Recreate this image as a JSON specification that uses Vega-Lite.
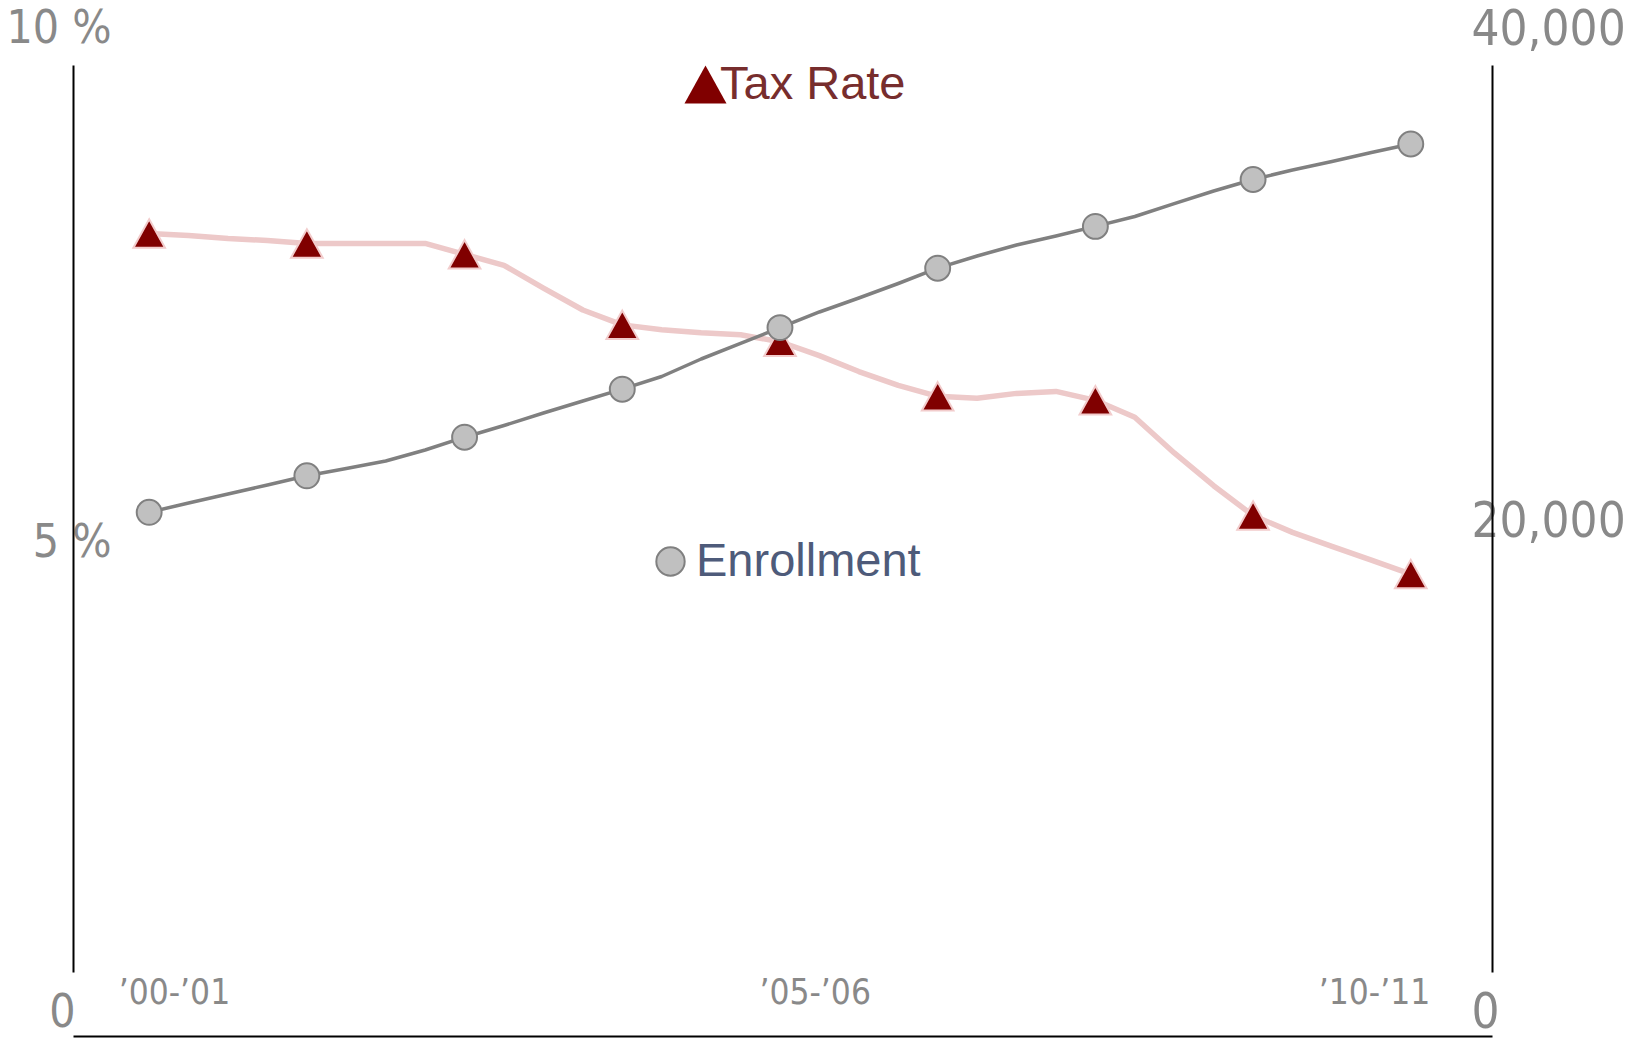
{
  "$schema": "https://vega.github.io/schema/vega-lite/v6.json",
  "width": 1419,
  "height": 907,
  "autosize": {"type": "none"},
  "padding": {"left": 73, "top": 65, "right": 144, "bottom": 66},
  "background": "white",
  "config": {"view": {"stroke": null}},
  "data": {"values": [
    {"t": 0, "tax": 7.88, "enr": 20290},
    {"t": 0.25, "tax": 7.86, "enr": 20665},
    {"t": 0.5, "tax": 7.83, "enr": 21027},
    {"t": 0.75, "tax": 7.81, "enr": 21390},
    {"t": 1, "tax": 7.78, "enr": 21760},
    {"t": 1.25, "tax": 7.78, "enr": 22054},
    {"t": 1.5, "tax": 7.78, "enr": 22357},
    {"t": 1.75, "tax": 7.78, "enr": 22800},
    {"t": 2, "tax": 7.67, "enr": 23315},
    {"t": 2.25, "tax": 7.56, "enr": 23787},
    {"t": 2.5, "tax": 7.33, "enr": 24290},
    {"t": 2.75, "tax": 7.11, "enr": 24773},
    {"t": 3, "tax": 6.96, "enr": 25249},
    {"t": 3.25, "tax": 6.91, "enr": 25760},
    {"t": 3.5, "tax": 6.88, "enr": 26465},
    {"t": 3.75, "tax": 6.86, "enr": 27090},
    {"t": 4, "tax": 6.79, "enr": 27730},
    {"t": 4.25, "tax": 6.65, "enr": 28359},
    {"t": 4.5, "tax": 6.49, "enr": 28922},
    {"t": 4.75, "tax": 6.35, "enr": 29507},
    {"t": 5, "tax": 6.24, "enr": 30123},
    {"t": 5.25, "tax": 6.22, "enr": 30614},
    {"t": 5.5, "tax": 6.27, "enr": 31057},
    {"t": 5.75, "tax": 6.29, "enr": 31420},
    {"t": 6, "tax": 6.2, "enr": 31807},
    {"t": 6.25, "tax": 6.03, "enr": 32205},
    {"t": 6.5, "tax": 5.67, "enr": 32721},
    {"t": 6.75, "tax": 5.34, "enr": 33233},
    {"t": 7, "tax": 5.04, "enr": 33696},
    {"t": 7.25, "tax": 4.87, "enr": 34079},
    {"t": 7.5, "tax": 4.73, "enr": 34421},
    {"t": 7.75, "tax": 4.59, "enr": 34784},
    {"t": 8, "tax": 4.45, "enr": 35126}
  ]},
  "encoding": {
    "x": {
      "field": "t", "type": "quantitative",
      "scale": {"domain": [-0.483, 8.515], "nice": false, "zero": false},
      "axis": {
        "orient": "bottom", "offset": 64, "title": null,
        "values": [0.157, 4.22, 7.767],
        "labelExpr": "datum.value < 1 ? '’00-’01' : (datum.value < 5 ? '’05-’06' : '’10-’11')",
        "domain": true, "domainColor": "#000000", "domainWidth": 2,
        "ticks": false, "tickSize": 0, "grid": false,
        "labelFont": "DejaVu Sans Condensed", "labelFontSize": 35, "labelColor": "#898989",
        "labelBaseline": "middle", "labelPadding": -44,
        "labelFlush": false, "labelOverlap": false, "labelBound": false
      }
    }
  },
  "layer": [
    {
      "encoding": {
        "y": {
          "field": "tax", "type": "quantitative",
          "scale": {"domain": [0.443, 9.577], "nice": false, "zero": false},
          "axis": {
            "orient": "left", "title": null,
            "values": [0.443, 5, 9.577],
            "labelExpr": "datum.value > 9 ? '10 %' : (datum.value > 4 ? '5 %' : '0')",
            "domain": true, "domainColor": "#000000", "domainWidth": 2,
            "ticks": false, "tickSize": 0, "grid": false,
            "labelFont": "DejaVu Sans Condensed", "labelFontSize": 46, "labelColor": "#898989",
            "labelAlign": "right", "labelBaseline": "middle",
            "labelPadding": {"condition": {"test": "datum.value < 1", "value": -2}, "value": -38},
            "labelOffset": {"condition": [{"test": "datum.value > 9", "value": -37}, {"test": "datum.value < 1", "value": 40}], "value": 23},
            "labelFlush": false, "labelOverlap": false, "labelBound": false
          }
        }
      },
      "layer": [
        {
          "mark": {"type": "line", "color": "#edc9c9", "strokeWidth": 5.5, "strokeJoin": "round", "strokeCap": "round"}
        },
        {
          "transform": [{"filter": "datum.t == floor(datum.t)"}],
          "mark": {"type": "point", "filled": true, "fill": "#800000", "stroke": "#f2cccc", "strokeWidth": 2, "size": 1000, "opacity": 1},
          "encoding": {
            "shape": {
              "datum": "Tax Rate",
              "scale": {"range": ["M0,-0.9L1,0.9L-1,0.9Z"]},
              "legend": {
                "orient": "none", "legendX": 609, "legendY": -4, "title": null, "padding": 0,
                "symbolSize": 1764, "symbolFillColor": "#7a2e2e", "symbolStrokeColor": "#f2cccc", "symbolStrokeWidth": 2,
                "labelFont": "Liberation Sans", "labelFontSize": 47, "labelColor": "#772d2d", "labelOffset": -9, "labelLimit": 600
              }
            }
          }
        }
      ]
    },
    {
      "encoding": {
        "y": {
          "field": "enr", "type": "quantitative",
          "scale": {"domain": [1772, 38308], "nice": false, "zero": false},
          "axis": {
            "orient": "right", "title": null,
            "values": [1772, 20000, 38308],
            "labelExpr": "datum.value > 30000 ? '40,000' : (datum.value > 10000 ? '20,000' : '0')",
            "domain": true, "domainColor": "#000000", "domainWidth": 2,
            "ticks": false, "tickSize": 0, "grid": false,
            "labelFont": "DejaVu Sans Condensed", "labelFontSize": 49, "labelColor": "#898989",
            "labelAlign": "left", "labelBaseline": "middle", "labelPadding": -21,
            "labelOffset": {"condition": [{"test": "datum.value > 30000", "value": -36}, {"test": "datum.value < 10000", "value": 40}], "value": 2},
            "labelFlush": false, "labelOverlap": false, "labelBound": false
          }
        }
      },
      "layer": [
        {
          "mark": {"type": "line", "color": "#808080", "strokeWidth": 3.5, "strokeJoin": "round"}
        },
        {
          "transform": [{"filter": "datum.t == floor(datum.t)"}],
          "mark": {"type": "circle", "stroke": "#808080", "strokeWidth": 2, "size": 620, "opacity": 1, "fillOpacity": 1},
          "encoding": {
            "fill": {
              "datum": "Enrollment",
              "scale": {"range": ["#c0c0c0"]},
              "legend": {
                "orient": "none", "legendX": 574, "legendY": 473, "title": null, "padding": 0,
                "symbolType": "circle", "symbolSize": 804, "symbolFillColor": "#c0c0c0", "symbolStrokeColor": "#808080", "symbolStrokeWidth": 2,
                "labelFont": "Liberation Sans", "labelFontSize": 47, "labelColor": "#4e5b7a", "labelOffset": 2, "labelLimit": 600
              }
            }
          }
        }
      ]
    }
  ],
  "resolve": {"scale": {"y": "independent"}}
}
